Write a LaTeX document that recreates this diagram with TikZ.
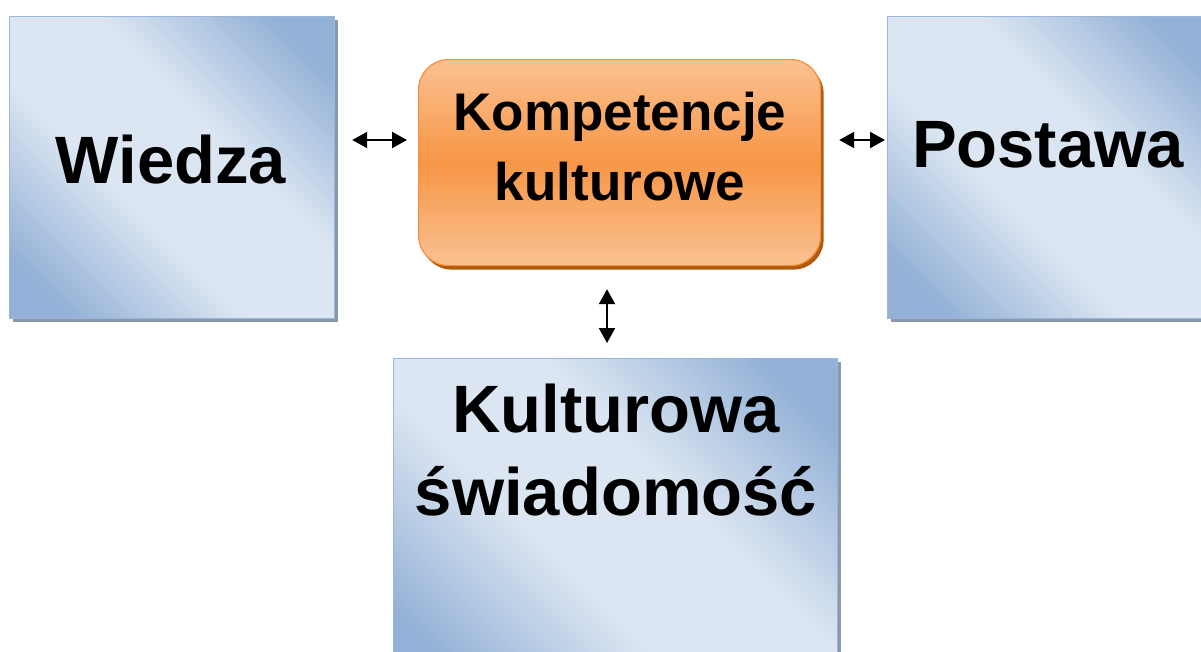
\documentclass[tikz,border=0pt]{standalone}
\usepackage{fontspec}
\setmainfont{Liberation Sans}
\usetikzlibrary{arrows.meta,shadows,calc}

\definecolor{bluedark}{HTML}{93B1D6}
\definecolor{bluelight}{HTML}{DCE6F2}
\definecolor{blueedge}{HTML}{9AB6DB}
\definecolor{blueshadow}{HTML}{8A98AC}
\definecolor{orangelight}{HTML}{FAC191}
\definecolor{orangemid}{HTML}{F79646}
\definecolor{orangeedge}{HTML}{F58E3C}
\definecolor{orangeshadow}{HTML}{B25A0C}

% dark ends, light band in the middle (used along the anti-diagonal)
\pgfdeclareverticalshading{bluediag}{100bp}{%
  color(0bp)=(bluedark); color(30bp)=(bluedark);
  color(44bp)=(bluelight); color(56bp)=(bluelight);
  color(70bp)=(bluedark); color(100bp)=(bluedark)}
% light top and bottom, saturated orange in the middle
\pgfdeclareverticalshading{orangev}{100bp}{%
  color(0bp)=(orangelight); color(25bp)=(orangelight);
  color(50bp)=(orangemid);
  color(75bp)=(orangelight); color(100bp)=(orangelight)}

\begin{document}
\begin{tikzpicture}[x=1pt,y=-1pt,
  % diagonal gradient: a square rotated by 45 degrees about the box centre,
  % sized so that its shading runs from corner to corner of the box
  bluegrad/.style={path picture={
    \begin{scope}[transform canvas={rotate around={-45:(path picture bounding box.center)}}]
      \shade[shading=bluediag]
        let \p1=(path picture bounding box.north east),
            \p2=(path picture bounding box.south west),
            \n1={abs(\x1-\x2)/2.8284+abs(\y1-\y2)/2.8284} in
        ($(path picture bounding box.center)+(-\n1,-\n1)$) rectangle
        ($(path picture bounding box.center)+(\n1,\n1)$);
    \end{scope}}},
  bluebox/.style={rectangle, anchor=north west, inner sep=0pt,
    draw=blueedge, line width=1.2pt, bluegrad,
    general shadow={fill=blueshadow, shadow xshift=3pt, shadow yshift=-3pt}},
  orangebox/.style={rectangle, anchor=north west, inner sep=0pt,
    rounded corners=30pt, draw=orangeedge, line width=1.2pt,
    shading=orangev,
    general shadow={fill=orangeshadow, shadow xshift=3pt, shadow yshift=-4pt}},
  big/.style={font=\fontsize{67}{80}\selectfont\bfseries, anchor=base, inner sep=0pt},
  mid/.style={font=\fontsize{53}{70}\selectfont\bfseries, anchor=base, inner sep=0pt},
  arr/.style={line width=2.2pt, {Triangle[length=15pt,width=16pt]}-{Triangle[length=15pt,width=16pt]}}
]
\useasboundingbox (0,0) rectangle (1201,651);

% boxes
\node[bluebox, minimum width=325pt, minimum height=302pt] (wiedza) at (9,16) {};
\node[bluebox, minimum width=325pt, minimum height=302pt] (postawa) at (887,16) {};
\node[bluebox, minimum width=444pt, minimum height=330pt] (swiad) at (393,358) {};
\node[orangebox, minimum width=402pt, minimum height=206pt] (komp) at (418,59) {};

% labels
\node[big] (twiedza) at (171,183) {Wiedza};
\node[big] (tpostawa) at (1048,167) {Postawa};
\node[mid] (tkomp1) at (620,130) {Kompetencje};
\node[mid] (tkomp2) at (620,200) {kulturowe};
\node[big] (tswiad1) at (616,432) {Kulturowa};
\node[big] (tswiad2) at (616,515) {świadomość};

% two-way links between the boxes
\coordinate (l1) at ($(wiedza.east |- 0,140)+(17,0)$);
\coordinate (l2) at ($(komp.west |- 0,140)+(-11,0)$);
\coordinate (r1) at ($(komp.east |- 0,140)+(18,0)$);
\coordinate (r2) at ($(postawa.west |- 0,140)+(-2,0)$);
\coordinate (d1) at ($(komp.south -| 607,0)+(0,23)$);
\coordinate (d2) at ($(swiad.north -| 607,0)+(0,-15)$);
\draw[arr] (l1) -- (l2);
\draw[arr] (r1) -- (r2);
\draw[arr] (d1) -- (d2);
\end{tikzpicture}
\end{document}
